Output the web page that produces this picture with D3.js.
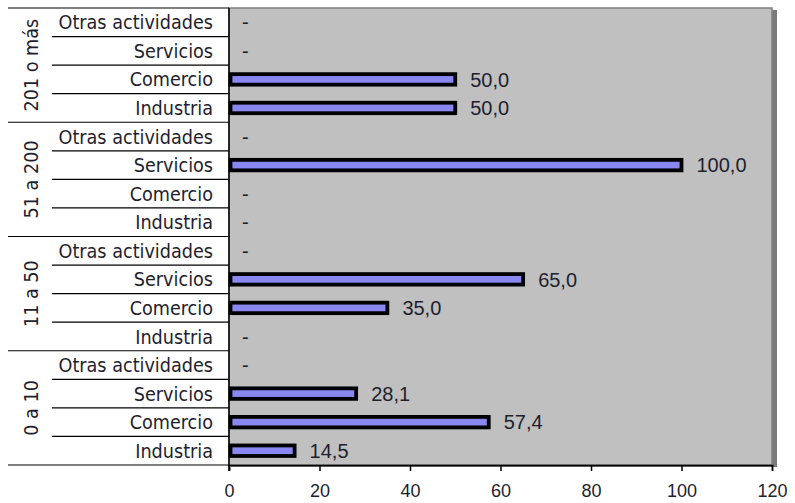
<!DOCTYPE html>
<head>
  <meta charset="utf-8">
  <script src="https://d3js.org/d3.v7.min.js"></script>
  <style>
    body { margin:0; background:#fff; }
    text { fill:#1e1e2e; }
    .lbl { font-family: "DejaVu Sans Condensed", "DejaVu Sans", sans-serif; }
    .num { font-family: "Liberation Sans", Arial, sans-serif; }
  </style>
</head>
<body>
  <svg width="795" height="503"></svg>
  <script>
    // groups listed top to bottom, categories top to bottom within each group
    var groups = ["201 o más", "51 a 200", "11 a 50", "0 a 10"];
    var categories = ["Otras actividades", "Servicios", "Comercio", "Industria"];
    var values = {
      "201 o más": [0, 0, 50.0, 50.0],
      "51 a 200":  [0, 100.0, 0, 0],
      "11 a 50":   [0, 65.0, 35.0, 0],
      "0 a 10":    [0, 28.1, 57.4, 14.5]
    };
    var ticks = [0, 20, 40, 60, 80, 100, 120];

    var svg = d3.select("svg");
    var plotL = 229, plotR = 772, plotT = 8, plotB = 465;

    var rows = [];
    groups.forEach(function (g) {
      categories.forEach(function (c, i) {
        rows.push({ key: g + "|" + c, group: g, cat: c, value: values[g][i] });
      });
    });

    var x = d3.scaleLinear().domain([0, 120]).range([plotL, plotR]);
    var y = d3.scaleBand().domain(rows.map(function (d) { return d.key; }))
      .range([plotT, plotB]);

    // plot area with shadow on right
    svg.append("rect").attr("x", plotL + 2).attr("y", plotT + 2)
      .attr("width", plotR - plotL + 3).attr("height", plotB - plotT)
      .attr("fill", "#7a7a7a");
    svg.append("rect").attr("x", plotL).attr("y", plotT)
      .attr("width", plotR - plotL).attr("height", plotB - plotT)
      .attr("fill", "#c0c0c0").attr("stroke", "#808080").attr("stroke-width", 1.5);

    // table lines on the left
    rows.forEach(function (d, i) {
      if (i === 0) return;
      var first = categories.indexOf(d.cat) === 0;
      svg.append("line")
        .attr("x1", first ? 8 : 52).attr("x2", plotL)
        .attr("y1", y(d.key)).attr("y2", y(d.key))
        .attr("stroke", "#000").attr("stroke-width", 1.2);
    });
    svg.append("line").attr("x1", 8).attr("x2", plotL).attr("y1", plotT).attr("y2", plotT)
      .attr("stroke", "#000").attr("stroke-width", 1.2);
    svg.append("line").attr("x1", 8).attr("x2", plotL).attr("y1", plotB).attr("y2", plotB)
      .attr("stroke", "#000").attr("stroke-width", 1.2);

    // category labels
    svg.selectAll(".cat").data(rows).enter().append("text")
      .attr("class", "lbl")
      .attr("x", 213)
      .attr("y", function (d) { return y(d.key) + y.bandwidth() / 2; })
      .attr("dy", "0.36em")
      .attr("text-anchor", "end")
      .attr("font-size", 19.6)
      .text(function (d) { return d.cat; });

    // group labels, rotated
    groups.forEach(function (g) {
      var y0 = y(g + "|" + categories[0]);
      var y1 = y(g + "|" + categories[3]) + y.bandwidth();
      var cy = (y0 + y1) / 2;
      svg.append("text")
        .attr("class", "lbl")
        .attr("transform", "translate(38," + cy + ") rotate(-90)")
        .attr("text-anchor", "middle")
        .attr("font-size", 19.6)
        .text(g);
    });

    // bars
    var barH = 10.5;
    var bars = rows.filter(function (d) { return d.value > 0; });
    svg.selectAll(".bar").data(bars).enter().append("rect")
      .attr("x", x(0) + 1.5)
      .attr("y", function (d) { return y(d.key) + y.bandwidth() / 2 - barH / 2; })
      .attr("width", function (d) { return x(d.value) - x(0) - 1.5; })
      .attr("height", barH)
      .attr("fill", "#8888f0")
      .attr("stroke", "#000")
      .attr("stroke-width", 3.8);

    // value labels
    svg.selectAll(".val").data(rows).enter().append("text")
      .attr("class", "num")
      .attr("x", function (d) { return d.value > 0 ? x(d.value) + 15 : x(0) + 13; })
      .attr("y", function (d) { return y(d.key) + y.bandwidth() / 2; })
      .attr("dy", "0.36em")
      .attr("font-size", 20)
      .text(function (d) { return d.value > 0 ? d3.format(".1f")(d.value).replace(".", ",") : "-"; });

    // vertical axis line
    svg.append("line").attr("x1", plotL).attr("x2", plotL).attr("y1", plotT).attr("y2", plotB + 6)
      .attr("stroke", "#000").attr("stroke-width", 1.5);

    // x axis
    var xAxis = svg.append("g")
      .attr("transform", "translate(0," + plotB + ")")
      .call(d3.axisBottom(x).tickValues(ticks).tickSize(6).tickPadding(13));
    xAxis.select(".domain").attr("stroke", "#000").attr("stroke-width", 1.5);
    xAxis.selectAll(".tick line").attr("stroke", "#000").attr("stroke-width", 1.5);
    xAxis.selectAll(".tick text").attr("class", "num").attr("font-size", 18)
      .attr("font-family", null).attr("fill", "#1e1e2e");
  </script>
</body>
